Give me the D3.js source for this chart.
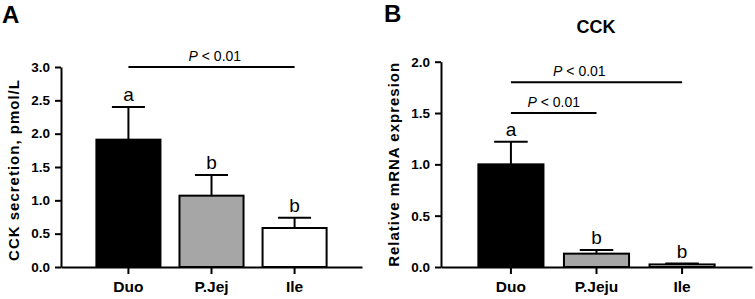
<!DOCTYPE html>
<html lang="en">
<head>
  <meta charset="UTF-8">
  <title>CCK</title>
  <script src="https://d3js.org/d3.v7.min.js"></script>
  <style>
    * { margin: 0; padding: 0; box-sizing: border-box; }
    body { background: #fff; font-family: Arial, "Liberation Sans", sans-serif; }
    svg text { font-family: Arial, "Liberation Sans", sans-serif; }
  </style>
</head>
<body>
  <div id="chart"></div>

  <script>
    // panel A - CCK secretion
    const groupsA = ["Duo", "P.Jej", "Ile"];
    const meansA = [1.91, 1.07, 0.585];
    const errA = [0.49, 0.31, 0.155];
    const lettersA = ["a", "b", "b"];
    const ticksA = [0, 0.5, 1.0, 1.5, 2.0, 2.5, 3.0];

    // panel B - relative mRNA
    const groupsB = ["Duo", "P.Jeju", "Ile"];
    const meansB = [1.0, 0.13, 0.025];
    const errB = [0.22, 0.035, 0.008];
    const lettersB = ["a", "b", "b"];
    const ticksB = [0, 0.5, 1.0, 1.5, 2.0];

    const fills = ["#000000", "#a6a6a6", "#ffffff"];

    const svg = d3.select("#chart")
                  .append("svg")
                  .attr("width", 755)
                  .attr("height", 299);

    function panel(opt) {
      const g = svg.append("g");

      const x = d3.scaleBand()
                  .domain(opt.groups)
                  .range([opt.x0, opt.x1])
                  .paddingInner(opt.padIn)
                  .paddingOuter(opt.padOut);

      const y = d3.scaleLinear()
                  .domain([0, opt.ticks[opt.ticks.length - 1]])
                  .range([opt.y0, opt.y1]);

      const data = opt.groups.map((k, i) => ({ k, m: opt.means[i], e: opt.errs[i], l: opt.letters[i], f: fills[i] }));

      // error bars first (bar covers lower part)
      g.selectAll(".err")
       .data(data)
       .enter()
       .append("line")
       .attr("x1", d => x(d.k) + x.bandwidth() / 2)
       .attr("x2", d => x(d.k) + x.bandwidth() / 2)
       .attr("y1", d => y(d.m))
       .attr("y2", d => y(d.m + d.e))
       .attr("stroke", "#000")
       .attr("stroke-width", 2);

      g.selectAll(".cap")
       .data(data)
       .enter()
       .append("line")
       .attr("x1", d => x(d.k) + x.bandwidth() / 4)
       .attr("x2", d => x(d.k) + x.bandwidth() * 3 / 4)
       .attr("y1", d => y(d.m + d.e))
       .attr("y2", d => y(d.m + d.e))
       .attr("stroke", "#000")
       .attr("stroke-width", 2);

      g.selectAll(".bar")
       .data(data)
       .enter()
       .append("rect")
       .attr("x", d => x(d.k) + 1)
       .attr("y", d => y(d.m))
       .attr("width", x.bandwidth() - 2)
       .attr("height", d => y(0) - y(d.m))
       .attr("fill", d => d.f)
       .attr("stroke", "#000")
       .attr("stroke-width", 2);

      g.selectAll(".letter")
       .data(data)
       .enter()
       .append("text")
       .attr("x", d => x(d.k) + x.bandwidth() / 2)
       .attr("y", d => y(d.m + d.e) - 6)
       .attr("text-anchor", "middle")
       .style("font-size", "19px")
       .text(d => d.l);

      // axes
      const ya = g.append("g")
                  .attr("transform", `translate(${opt.x0},0)`)
                  .call(d3.axisLeft(y).tickValues(opt.ticks).tickFormat(d3.format(".1f")).tickSize(6).tickSizeOuter(0).tickPadding(5));
      ya.selectAll("text").style("font-size", "13.5px").style("font-weight", "bold").attr("fill", "#000");

      const xa = g.append("g")
                  .attr("transform", `translate(0,${opt.y0})`)
                  .call(d3.axisBottom(x).tickSize(7).tickSizeOuter(0).tickPadding(7));
      xa.selectAll("text").style("font-size", "15.5px").style("font-weight", "bold").attr("fill", "#000");

      [ya, xa].forEach(a => {
        a.selectAll("line").attr("stroke", "#000").attr("stroke-width", 2);
        a.select(".domain").attr("stroke", "#000").attr("stroke-width", 2);
      });

      // y title
      g.append("text")
       .attr("transform", `translate(${opt.titleX},${(opt.y0 + opt.y1) / 2 + opt.titleDy}) rotate(-90)`)
       .attr("text-anchor", "middle")
       .style("font-size", "15px")
       .style("font-weight", "bold")
       .style("letter-spacing", "1px")
       .text(opt.yTitle);

      // significance brackets
      opt.sig.forEach(s => {
        const xa1 = x(s.from) + x.bandwidth() / 2;
        const xa2 = x(s.to) + x.bandwidth() / 2;
        g.append("line")
         .attr("x1", xa1)
         .attr("x2", xa2)
         .attr("y1", y(s.at))
         .attr("y2", y(s.at))
         .attr("stroke", "#000")
         .attr("stroke-width", 2);
        const t = g.append("text")
                   .attr("x", xa1 + (xa2 - xa1) * s.pos)
                   .attr("y", y(s.at) - 6)
                   .attr("text-anchor", "middle")
                   .style("font-size", "14px");
        t.append("tspan").style("font-style", "italic").text("P");
        t.append("tspan").text(" < 0.01");
      });

      g.append("text")
       .attr("x", opt.labelX)
       .attr("y", opt.labelY)
       .style("font-size", opt.labelSize)
       .style("font-weight", "bold")
       .text(opt.label);

      return { g, x, y };
    }

    panel({
      groups: groupsA, means: meansA, errs: errA, letters: lettersA, ticks: ticksA,
      x0: 61, x1: 362, y0: 267, y1: 67, padIn: 0.205, padOut: 0.414,
      yTitle: "CCK secretion, pmol/L", titleX: 19, titleDy: 3,
      sig: [{ from: "Duo", to: "Ile", at: 3.0, pos: 0.52 }],
      label: "A", labelX: 2, labelY: 22.5, labelSize: "24px"
    });

    const b = panel({
      groups: groupsB, means: meansB, errs: errB, letters: lettersB, ticks: ticksB,
      x0: 441, x1: 752, y0: 267, y1: 61.7, padIn: 0.216, padOut: 0.425,
      yTitle: "Relative mRNA expresion", titleX: 399, titleDy: 0,
      sig: [{ from: "Duo", to: "Ile", at: 1.8, pos: 0.4 },
            { from: "Duo", to: "P.Jeju", at: 1.5, pos: 0.5 }],
      label: "B", labelX: 384, labelY: 22, labelSize: "24px"
    });

    b.g.append("text")
       .attr("x", 596)
       .attr("y", 33)
       .attr("text-anchor", "middle")
       .style("font-size", "18px")
       .style("font-weight", "bold")
       .text("CCK");
  </script>
</body>
</html>
